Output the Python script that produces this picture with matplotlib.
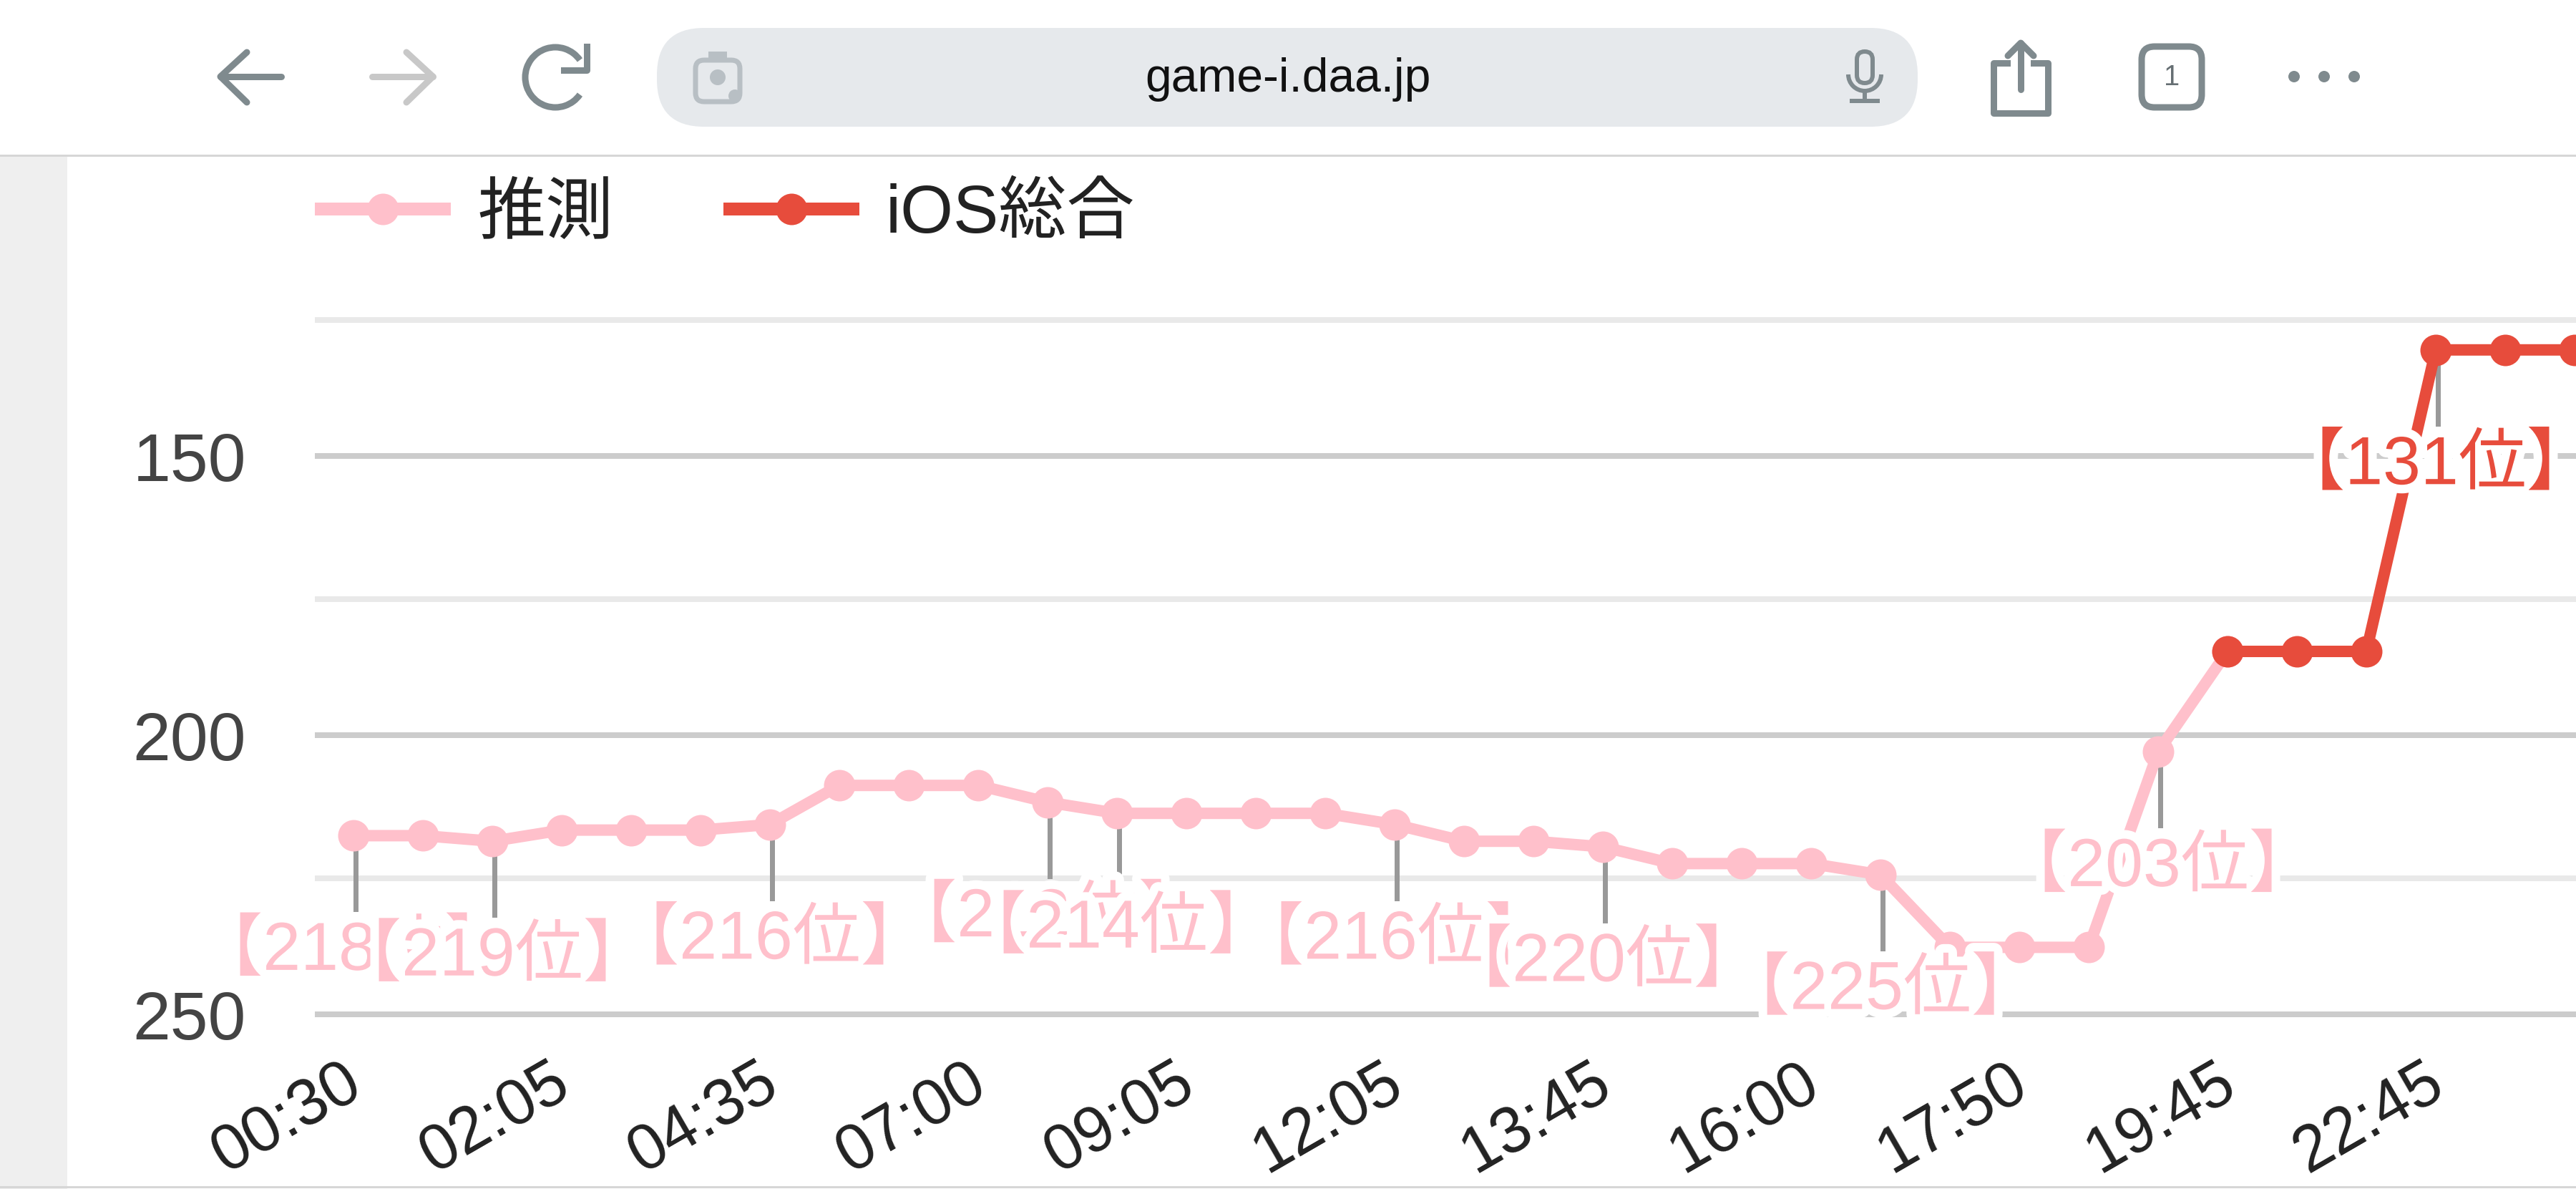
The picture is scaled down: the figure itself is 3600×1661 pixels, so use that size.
import numpy as np
import matplotlib
matplotlib.use("Agg")
import matplotlib.pyplot as plt
import matplotlib.patheffects as pe
from matplotlib.patches import Arc, Circle, FancyBboxPatch, Rectangle
from matplotlib.transforms import ScaledTranslation

plt.rcParams['font.family'] = ['Liberation Sans', 'Noto Sans CJK JP', 'DejaVu Sans']

# data
nan = float('nan')
suisoku = [218, 218, 219, 217, 217, 217, 216, 209, 209, 209, 212, 214, 214, 214, 214, 216, 219,
           219, 220, 223, 223, 223, 225, 238, 238, 238, 203, 185]
ios_sougou = [nan] * 27 + [185, 185, 185, 131, 131, 131]
tick_labels = ['00:30', '02:05', '04:35', '07:00', '09:05', '12:05', '13:45', '16:00', '17:50', '19:45', '22:45']
tick_index = list(range(0, 33, 3))
label_index = [0, 2, 6, 10, 11, 15, 18, 22, 26, 30]
major_ticks = [150, 200, 250]
minor_ticks = [125.6, 175.6, 225.6]

PINK = '#ffc0cb'
RED = '#e74c3c'
W, H = 3600, 1661
px = 0.72  # points per pixel at dpi 100

fig = plt.figure(figsize=(W / 100, H / 100), dpi=100, facecolor='white')

# browser chrome, in pixels of the screenshot
bg = fig.add_axes([0, 0, 1, 1], zorder=0)
bg.set_xlim(0, W)
bg.set_ylim(H, 0)
bg.axis('off')
bg.add_patch(Rectangle((0, 218), 94, H - 218, color='#efefef', lw=0))
bg.plot([0, W], [217, 217], color='#d6d6d6', lw=3 * px)
bg.plot([0, W], [1658, 1658], color='#d6d6d6', lw=3 * px)
bg.add_patch(FancyBboxPatch((918, 39), 1762, 138, boxstyle='round,pad=0,rounding_size=66', fc='#e6e9ec', ec='none'))
bg.text(1800, 111, 'game-i.daa.jp', fontsize=66 * px, color='#111111', ha='center', va='center')

gray = '#7f8a8e'
lw = 9 * px
bg.plot([393, 308], [107, 107], color=gray, lw=lw, solid_capstyle='round')
bg.plot([345, 308, 345], [73, 107, 143], color=gray, lw=lw, solid_capstyle='round')
bg.plot([520, 605], [107, 107], color='#c8c8c8', lw=lw, solid_capstyle='round')
bg.plot([568, 605, 568], [73, 107, 143], color='#c8c8c8', lw=lw, solid_capstyle='round')
bg.add_patch(Arc((776, 108), 84, 84, theta1=35, theta2=325, color=gray, lw=lw))
bg.plot([820, 820, 788], [65, 98, 98], color=gray, lw=lw)

cam = '#b8bfc4'
bg.add_patch(FancyBboxPatch((972, 84), 62, 58, boxstyle='round,pad=0,rounding_size=12', fc='none', ec=cam, lw=7 * px))
bg.add_patch(Rectangle((990, 72), 26, 12, color=cam, lw=0))
bg.add_patch(Circle((1003, 108), 11, color=cam, lw=0))
bg.add_patch(Circle((1027, 134), 9, color=cam, lw=0))

bg.add_patch(FancyBboxPatch((2595, 72), 22, 44, boxstyle='round,pad=0,rounding_size=11', fc='none', ec=gray, lw=6 * px))
bg.add_patch(Arc((2606, 104), 46, 46, theta1=0, theta2=180, color=gray, lw=6 * px))
bg.plot([2606, 2606], [127, 141], color=gray, lw=6 * px)
bg.plot([2588, 2624], [141, 141], color=gray, lw=6 * px)

bg.plot([2805, 2786, 2786, 2862, 2862, 2842], [88, 88, 158, 158, 88, 88], color=gray, lw=lw, solid_joinstyle='round')
bg.plot([2824, 2824], [60, 125], color=gray, lw=lw, solid_capstyle='round')
bg.plot([2806, 2824, 2842], [78, 60, 78], color=gray, lw=lw, solid_capstyle='round')

bg.add_patch(FancyBboxPatch((2993, 65), 84, 85, boxstyle='round,pad=0,rounding_size=18', fc='none', ec=gray, lw=lw))
bg.text(3035, 108, '1', fontsize=40 * px, color='#666f73', ha='center', va='center')
for cx in [3206, 3248, 3290]:
    bg.add_patch(Circle((cx, 107), 8, color=gray, lw=0))

# chart axes, y scale 7.8 px per rank, 97 px per point
top_px, bottom_px = 430, 1425
left_px = 440
ax = fig.add_axes([left_px / W, 1 - bottom_px / H, (W - left_px) / W, (bottom_px - top_px) / H], zorder=1)
ax.patch.set_alpha(0)
ax.set_xlim((left_px - 494) / 97, (W - 494) / 97)
ax.set_ylim(150 + (bottom_px - 637) / 7.8, 150 + (top_px - 637) / 7.8)
for s in ax.spines.values():
    s.set_visible(False)

ax.set_yticks(major_ticks)
ax.set_yticks(minor_ticks, minor=True)
ax.grid(True, axis='y', which='major', color='#cccccc', lw=8 * px, zorder=1)
ax.grid(True, axis='y', which='minor', color='#e9e9e9', lw=8 * px, zorder=1)
ax.set_axisbelow(True)
ax.tick_params(axis='y', which='both', length=0, pad=96 * px, labelsize=95 * px, labelcolor='#444444')
ax.set_xticks(tick_index)
ax.set_xticklabels(tick_labels, rotation=30, ha='right', va='top', rotation_mode='anchor')
ax.tick_params(axis='x', length=0, pad=44 * px, labelsize=90 * px, labelcolor='#222222')
shift = ScaledTranslation(-17 / 100, 0, fig.dpi_scale_trans)
for t in ax.get_xticklabels():
    t.set_transform(t.get_transform() + shift)

l1, = ax.plot(range(len(suisoku)), suisoku, color=PINK, lw=16 * px, marker='o', ms=44 * px, mew=0,
              label='推測', zorder=3)
l2, = ax.plot(range(len(ios_sougou)), ios_sougou, color=RED, lw=16 * px, marker='o', ms=44 * px, mew=0,
              label='iOS総合', zorder=4)

# rank labels with leader line and white halo
for i in label_index:
    if i < 27:
        v, c = suisoku[i], PINK
    else:
        v, c = ios_sougou[i], RED
    ax.plot([i + 3 / 97, i + 3 / 97], [v, v + 103 / 7.8], color='#999999', lw=7 * px, zorder=2.5)
    ax.annotate('【%d位】' % v, xy=(i, v), xytext=(0, -163), textcoords='offset pixels', color=c,
                fontsize=95 * px, ha='center', va='center', zorder=5,
                path_effects=[pe.withStroke(linewidth=24 * px, foreground='white')])

leg = ax.legend(handles=[l1, l2], ncol=2, frameon=False, loc='center left',
                bbox_to_anchor=(left_px / W, 1 - 301 / H), bbox_transform=fig.transFigure,
                fontsize=95 * px, handlelength=2.0, handletextpad=0.39, columnspacing=1.62,
                borderpad=0, borderaxespad=0, labelcolor='#222222')
for line in leg.get_lines():
    line.set_linewidth(18 * px)
    line.set_solid_capstyle('butt')

fig.savefig('out.png', dpi=100)
